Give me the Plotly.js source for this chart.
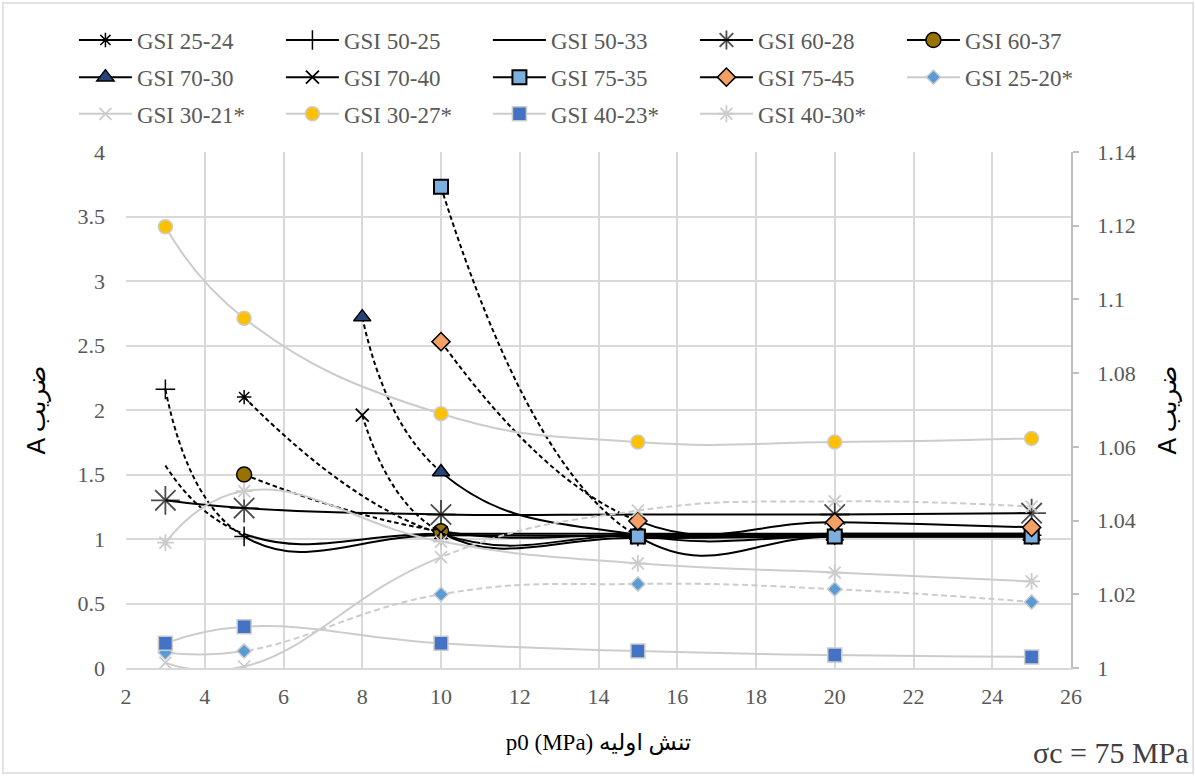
<!DOCTYPE html>
<html><head><meta charset="utf-8">
<script src="https://cdn.plot.ly/plotly-3.0.1.min.js"></script>
<style>html,body{margin:0;padding:0;background:#fff;} #chart{width:1195px;height:776px;}</style>
</head><body><div id="chart"></div>
<script>
// ---------- data (primary axis, A) ----------
const p0_2524 = [5, 10, 15, 20, 25];
const a_2524  = [2.10, 1.04, 1.03, 1.04, 1.04];
const p0_5025 = [3, 5, 10, 15, 20, 25];
const a_5025  = [2.16, 1.02, 1.03, 1.02, 1.03, 1.03];
const p0_5033 = [3, 5, 10, 15, 20, 25];
const a_5033  = [1.57, 1.04, 1.04, 1.04, 1.04, 1.04];
const p0_6028 = [3, 5, 10, 15, 20, 25];
const a_6028  = [1.30, 1.24, 1.19, 1.19, 1.19, 1.20];
const p0_6037 = [5, 10, 15, 20, 25];
const a_6037  = [1.50, 1.06, 1.03, 1.03, 1.03];
const p0_7030 = [8, 10, 15, 20, 25];
const a_7030  = [2.72, 1.52, 1.03, 1.02, 1.02];
const p0_7040 = [8, 10, 15, 20, 25];
const a_7040  = [1.96, 1.05, 1.01, 1.02, 1.02];
const p0_7535 = [10, 15, 20, 25];
const a_7535  = [3.73, 1.02, 1.02, 1.02];
const p0_7545 = [10, 15, 20, 25];
const a_7545  = [2.53, 1.14, 1.13, 1.09];
// ---------- data (secondary axis, A) ----------
const p0_star = [3, 5, 10, 15, 20, 25];
const a_2520s = [1.0042, 1.0046, 1.0200, 1.0228, 1.0214, 1.0179];
const a_3021s = [1.0014, 1.0004, 1.0301, 1.0427, 1.0452, 1.0438];
const a_3027s = [1.1197, 1.0949, 1.0690, 1.0613, 1.0613, 1.0623];
const a_4023s = [1.0067, 1.0112, 1.0067, 1.0046, 1.0035, 1.0030];
const a_4030s = [1.0340, 1.0480, 1.0343, 1.0284, 1.0259, 1.0235];
const xTickVals = [2, 4, 6, 8, 10, 12, 14, 16, 18, 20, 22, 24, 26];

// ---------- styles ----------
const SM = 1.3;
const GRAY = '#cccccc';
const FONT = '"Liberation Serif", "DejaVu Serif", serif';
function blk(name, x, y, marker, legend) {
  return {type:'scatter', mode:'lines+markers', name, x, y, yaxis:'y', legend,
    line:{color:'#000000', width:2, shape:'spline', smoothing:SM}, marker};
}
function gry(name, x, y, marker, legend) {
  return {type:'scatter', mode:'lines+markers', name, x, y, yaxis:'y2', legend,
    line:{color:GRAY, width:2, shape:'spline', smoothing:SM}, marker};
}
const traces = [
  blk('GSI 25-24', p0_2524, a_2524, {symbol:'asterisk-open', size:12, color:'#000', line:{width:1.5}}, 'legend'),
  blk('GSI 50-25', p0_5025, a_5025, {symbol:'cross-thin-open', size:14, color:'#000', line:{width:1.5}}, 'legend'),
  blk('GSI 50-33', p0_5033, a_5033, {size:0, opacity:0}, 'legend'),
  blk('GSI 60-28', p0_6028, a_6028, {symbol:'asterisk-open', size:[24,24,24,0,24,24], color:'#000', line:{width:1.8}}, 'legend'),
  blk('GSI 60-37', p0_6037, a_6037, {symbol:'circle', size:15, color:'#997300', line:{color:'#000', width:1.5}}, 'legend'),
  blk('GSI 70-30', p0_7030, a_7030, {symbol:'triangle-up', size:15, color:'#264478', line:{color:'#000', width:1.5}}, 'legend2'),
  blk('GSI 70-40', p0_7040, a_7040, {symbol:'x-thin-open', size:13, color:'#000', line:{width:1.8}}, 'legend2'),
  blk('GSI 75-35', p0_7535, a_7535, {symbol:'square', size:14, color:'#7cafdd', line:{color:'#000', width:2}}, 'legend2'),
  blk('GSI 75-45', p0_7545, a_7545, {symbol:'diamond', size:14, color:'#f4a064', line:{color:'#000', width:1.5}}, 'legend2'),
  gry('GSI 25-20*', p0_star, a_2520s, {symbol:'diamond', size:11, color:'#5b9bd5', line:{color:GRAY, width:1.5}}, 'legend2'),
  gry('GSI 30-21*', p0_star, a_3021s, {symbol:'x-thin-open', size:12, color:GRAY, line:{width:1.8}}, 'legend3'),
  gry('GSI 30-27*', p0_star, a_3027s, {symbol:'circle', size:14, color:'#ffc000', line:{color:GRAY, width:1.5}}, 'legend3'),
  gry('GSI 40-23*', p0_star, a_4023s, {symbol:'square', size:14, color:'#4472c4', line:{color:GRAY, width:1.5}}, 'legend3'),
  gry('GSI 40-30*', p0_star, a_4030s, {symbol:'asterisk-open', size:14, color:GRAY, line:{width:1.8}}, 'legend3')
];
// segment dash styles: dashed from start until point index, or solid until index then dashed
const segStyle = {
  'GSI 25-24': {first:'dash', idx:1, d:4.5, g:3},
  'GSI 50-25': {first:'dash', idx:1, d:4.5, g:3},
  'GSI 50-33': {first:'dash', idx:1, d:4.5, g:3},
  'GSI 60-37': {first:'dash', idx:1, d:4.5, g:3},
  'GSI 70-30': {first:'dash', idx:1, d:4.5, g:3},
  'GSI 70-40': {first:'dash', idx:1, d:4.5, g:3},
  'GSI 75-35': {first:'dash', idx:1, d:4.5, g:3},
  'GSI 75-45': {first:'dash', idx:1, d:4.5, g:3},
  'GSI 25-20*': {first:'solid', idx:1, d:6, g:3.5},
  'GSI 30-21*': {first:'solid', idx:2, d:6, g:3.5}
};

const tickFont = {family:FONT, size:22, color:'#595959'};
const legendBase = {orientation:'h', xref:'paper', yref:'paper', x:-0.0551, xanchor:'left', yanchor:'middle',
  entrywidth:139, entrywidthmode:'pixels', itemwidth:53, bgcolor:'rgba(0,0,0,0)', borderwidth:0,
  font:{family:FONT, size:23, color:'#595959'}, traceorder:'normal'};

const layout = {
  width:1195, height:776,
  margin:{l:126, r:124, t:152, b:108, autoexpand:false},
  paper_bgcolor:'#ffffff', plot_bgcolor:'#ffffff',
  showlegend:true,
  legend: Object.assign({}, legendBase, {y:1.217}),
  legend2: Object.assign({}, legendBase, {y:1.145}),
  legend3: Object.assign({}, legendBase, {y:1.074}),
  xaxis:{range:[2,26], tickvals:xTickVals, showgrid:true, gridcolor:'#d9d9d9', gridwidth:1.5,
    zeroline:false, showline:true, linecolor:'#d9d9d9', linewidth:1.5, ticks:'',
    tickfont:tickFont, ticklabelstandoff:8,
    title:{text:'p0 (MPa) تنش اولیه', font:{family:'"Liberation Serif", "DejaVu Sans", serif', size:23, color:'#000'}, standoff:26}},
  yaxis:{range:[0,4], dtick:0.5, tick0:0, showgrid:true, gridcolor:'#d9d9d9', gridwidth:1.5,
    zeroline:false, showline:false, ticks:'', tickfont:tickFont, ticklabelstandoff:20,
    title:{text:'A ضریب', font:{family:'"Liberation Sans", "DejaVu Sans", sans-serif', size:25, color:'#000'}, standoff:24}},
  yaxis2:{overlaying:'y', side:'right', range:[1,1.14], dtick:0.02, tick0:1, showgrid:false, zeroline:false,
    showline:true, linecolor:'#bfbfbf', linewidth:1.5, ticks:'outside', ticklen:6, tickwidth:1.5, tickcolor:'#bfbfbf',
    tickfont:tickFont, ticklabelstandoff:14,
    title:{text:'A ضریب', font:{family:'"Liberation Sans", "DejaVu Sans", sans-serif', size:25, color:'#000'}, standoff:24}},
  annotations:[{xref:'paper', yref:'paper', x:1.127, y:-0.163, xanchor:'right', yanchor:'middle', showarrow:false,
    text:'σc = 75 MPa', font:{family:FONT, size:30, color:'#404040'}}],
  shapes:[{type:'rect', xref:'paper', yref:'paper', x0:-0.1303, x1:1.1292, y0:-0.2035, y1:1.2888,
    line:{color:'#d9d9d9', width:1.5}, fillcolor:'rgba(0,0,0,0)', layer:'below'}]
};

function applySegmentDashes(gd) {
  const groups = gd.querySelectorAll('.scatterlayer .trace');
  groups.forEach(function(g) {
    const cd = g.__data__;
    if (!cd || !cd[0] || !cd[0].trace) return;
    const tr = cd[0].trace;
    const spec = segStyle[tr.name];
    if (!spec) return;
    const path = g.querySelector('path.js-line');
    if (!path) return;
    const xa = gd._fullLayout.xaxis;
    const L = path.getTotalLength();
    const bx = xa.l2p(tr.x[spec.idx]);
    let lo = 0, hi = L;
    for (let k = 0; k < 40; k++) {
      const mid = (lo + hi) / 2;
      if (path.getPointAtLength(mid).x < bx) lo = mid; else hi = mid;
    }
    const s = lo;
    const parts = [];
    if (spec.first === 'dash') {
      let acc = 0;
      while (acc + spec.d + spec.g <= s) { parts.push(spec.d, spec.g); acc += spec.d + spec.g; }
      parts.push(L + 20, 0);
    } else {
      parts.push(s, spec.g);
      let acc = s + spec.g;
      while (acc < L + 20) { parts.push(spec.d, spec.g); acc += spec.d + spec.g; }
    }
    path.style.strokeDasharray = parts.map(function(v){return v.toFixed(2) + 'px';}).join(',');
  });
}

const gd = document.getElementById('chart');
Plotly.newPlot(gd, traces, layout, {displayModeBar:false, responsive:false}).then(function(){
  applySegmentDashes(gd);
});
</script>
</body></html>
